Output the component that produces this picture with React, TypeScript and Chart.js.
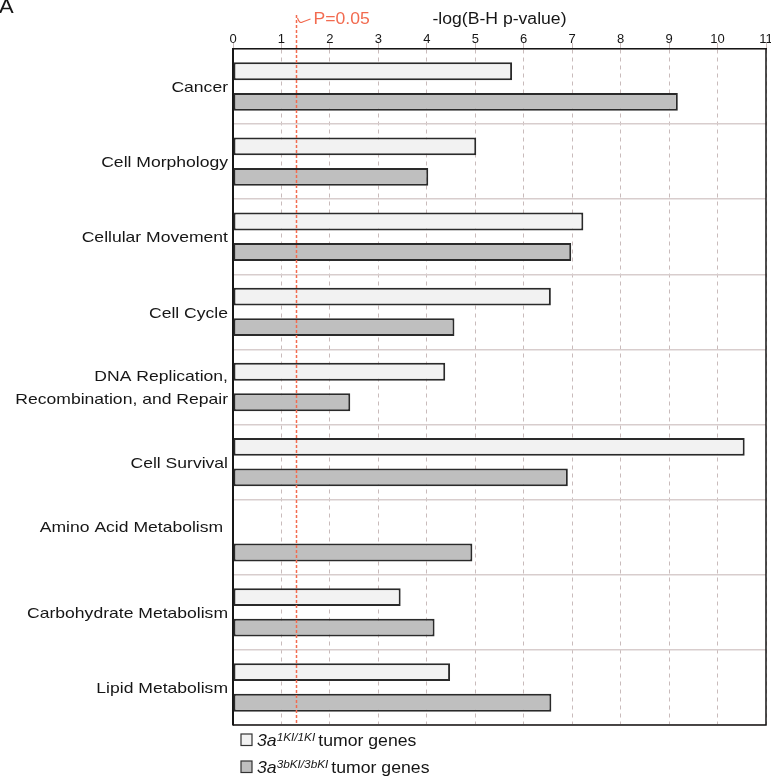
import React, { useEffect, useRef } from "react";
import { Chart, registerables } from "chart.js";

Chart.register(...registerables);

const categories: (string | string[])[] = [
  "Cancer",
  "Cell Morphology",
  "Cellular Movement",
  "Cell Cycle",
  ["DNA Replication,", "Recombination, and Repair"],
  "Cell Survival",
  ["Amino Acid Metabolism ", ""],
  "Carbohydrate Metabolism",
  "Lipid Metabolism",
];
const ki1Values: (number | null)[] = [5.76, 5.02, 7.23, 6.56, 4.38, 10.56, null, 3.46, 4.48];
const ki3bValues: (number | null)[] = [9.18, 4.03, 6.98, 4.57, 2.42, 6.91, 4.94, 4.16, 6.57];
const xMin = 0;
const xMax = 11;
const xStep = 1;
const pThreshold = 1.301; // -log10(0.05)
const pLabel = "P=0.05";
const axisTitle = "-log(B-H p-value)";
const panelLabel = "A";
const legendItems = [
  { base: "3a", sup: "1KI/1KI", rest: "tumor genes", fill: "#f2f2f2" },
  { base: "3a", sup: "3bKI/3bKI", rest: "tumor genes", fill: "#bfbfbf" },
];

const FONT = "'Liberation Sans', Arial, Helvetica, sans-serif";
const RED = "#f26b50";
const INK = "#161616";

function stretchText(
  ctx: CanvasRenderingContext2D,
  text: string,
  x: number,
  y: number,
  align: CanvasTextAlign,
  sx: number
) {
  ctx.save();
  ctx.translate(x, y);
  ctx.scale(sx, 1);
  ctx.textAlign = align;
  ctx.fillText(text, 0, 0);
  ctx.restore();
}

const annotPlugin = {
  id: "annot",
  afterDraw(chart: any) {
    const { ctx, chartArea: a, scales } = chart;
    const x = scales.x;
    const y = scales.y;
    ctx.save();

    // category labels
    ctx.fillStyle = INK;
    ctx.font = `15px ${FONT}`;
    ctx.textBaseline = "middle";
    const lh = 22.5;
    (chart.data.labels as any[]).forEach((lab, i) => {
      const lines = Array.isArray(lab) ? lab : [lab];
      const cy = y.getPixelForTick(i) + 1.5;
      const start = cy - ((lines.length - 1) * lh) / 2;
      lines.forEach((ln: string, j: number) => {
        if (ln) stretchText(ctx, ln, a.left - 5, start + j * lh, "right", 1.17);
      });
    });

    // frame right/bottom
    ctx.strokeStyle = INK;
    ctx.lineWidth = 1.5;
    ctx.beginPath();
    ctx.moveTo(a.right, a.top);
    ctx.lineTo(a.right, a.bottom);
    ctx.lineTo(a.left, a.bottom);
    ctx.stroke();

    // P threshold line
    const px = Math.round(x.getPixelForValue(pThreshold)) + 0.5;
    ctx.strokeStyle = RED;
    ctx.lineWidth = 1.5;
    ctx.setLineDash([3, 2]);
    ctx.beginPath();
    ctx.moveTo(px, 15);
    ctx.lineTo(px, a.bottom);
    ctx.stroke();
    ctx.setLineDash([]);
    ctx.lineWidth = 1.1;
    ctx.beginPath();
    ctx.moveTo(px + 1, 18);
    ctx.quadraticCurveTo(px + 3, 24, px + 6, 22);
    ctx.lineTo(px + 14, 19);
    ctx.stroke();

    ctx.fillStyle = RED;
    ctx.font = `16px ${FONT}`;
    ctx.textBaseline = "alphabetic";
    stretchText(ctx, pLabel, px + 17, 24, "left", 1.1);

    // axis title
    ctx.fillStyle = INK;
    stretchText(ctx, axisTitle, (a.left + a.right) / 2, 24, "center", 1.1);

    // panel label
    ctx.font = `20px ${FONT}`;
    stretchText(ctx, panelLabel, -1, 13, "left", 1.1);

    // legend
    const sx = 1.07;
    legendItems.forEach((it, i) => {
      const base = a.bottom + 21 + i * 27;
      const bx = a.left + 8;
      ctx.fillStyle = it.fill;
      ctx.fillRect(bx, base - 12, 11, 11.5);
      ctx.strokeStyle = "#333";
      ctx.lineWidth = 1.2;
      ctx.strokeRect(bx, base - 12, 11, 11.5);
      ctx.fillStyle = INK;
      let tx = bx + 16;
      ctx.font = `italic 16.5px ${FONT}`;
      stretchText(ctx, it.base, tx, base, "left", sx);
      tx += ctx.measureText(it.base).width * sx;
      ctx.font = `italic 11px ${FONT}`;
      stretchText(ctx, it.sup, tx, base - 5, "left", sx);
      tx += ctx.measureText(it.sup).width * sx + 3;
      ctx.font = `16.5px ${FONT}`;
      stretchText(ctx, it.rest, tx, base, "left", sx);
    });

    ctx.restore();
  },
};

export default function App() {
  const ref = useRef<HTMLCanvasElement | null>(null);
  useEffect(() => {
    if (!ref.current) return;
    const chart = new Chart(ref.current, {
      type: "bar",
      data: {
        labels: categories as any,
        datasets: [
          {
            label: "3a 1KI/1KI tumor genes",
            data: ki1Values,
            backgroundColor: "#f2f2f2",
            borderColor: "#2a2a2a",
            borderWidth: 2,
            borderSkipped: false,
            categoryPercentage: 0.813,
            barPercentage: 0.585,
          },
          {
            label: "3a 3bKI/3bKI tumor genes",
            data: ki3bValues,
            backgroundColor: "#bfbfbf",
            borderColor: "#2a2a2a",
            borderWidth: 2,
            borderSkipped: false,
            categoryPercentage: 0.813,
            barPercentage: 0.585,
          },
        ],
      },
      options: {
        indexAxis: "y",
        responsive: false,
        animation: false,
        layout: { padding: { left: 0, top: 0, right: 5, bottom: 55 } },
        plugins: {
          legend: { display: false },
          tooltip: { enabled: false },
          title: { display: false },
        },
        scales: {
          x: {
            position: "top",
            min: xMin,
            max: xMax,
            ticks: {
              stepSize: xStep,
              color: INK,
              font: { family: FONT, size: 13, lineHeight: 1 },
              padding: -3,
              maxRotation: 0,
            },
            grid: {
              color: "rgba(195,180,180,0.9)",
              lineWidth: 1,
              drawTicks: true,
              tickLength: 6,
              tickColor: "rgba(195,180,180,0.9)",
            },
            border: { display: true, color: INK, width: 1.5, dash: [4, 4] as any },
            afterFit: (s: any) => {
              s.height = 49;
              s.paddingLeft = 0;
              s.paddingRight = 0;
            },
          } as any,
          y: {
            ticks: { display: false },
            grid: {
              offset: true,
              color: "#d8cdcd",
              lineWidth: 1.5,
              drawTicks: false,
            },
            border: { display: true, color: INK, width: 2 },
            afterFit: (s: any) => {
              s.width = 233;
              s.paddingTop = 0;
              s.paddingBottom = 0;
            },
          } as any,
        },
      },
      plugins: [annotPlugin],
    });
    return () => chart.destroy();
  }, []);
  return (
    <div style={{ position: "fixed", left: 0, top: 0, width: 771, height: 780 }}>
      <canvas ref={ref} width={771} height={780} style={{ display: "block" }} />
    </div>
  );
}
